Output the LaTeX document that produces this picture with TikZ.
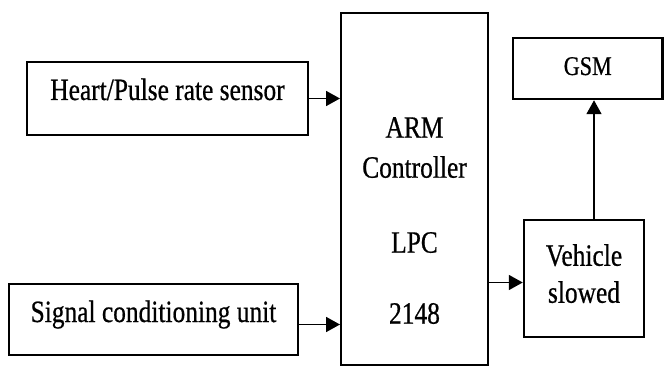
\documentclass[tikz,border=0pt]{standalone}
\usepackage{fontspec}
\setmainfont{Liberation Serif}[FakeStretch=0.82, FakeBold=0.6]
\usetikzlibrary{arrows.meta, positioning, calc}

\begin{document}
\begin{tikzpicture}[
    x=1pt, y=1pt,
    block/.style={rectangle, draw=black, line width=2.5pt, inner sep=0pt,
                  align=center, font=\fontsize{31pt}{37pt}\selectfont},
    arrow/.style={-{Triangle[length=14pt, width=15pt]}, line width=1.8pt},
]
    \useasboundingbox (0,0) rectangle (664,367);

    % input blocks
    \node[block, minimum width=281pt, minimum height=73pt,
          text height=21pt, text depth=18pt] (heart) at (167.5,268.5) {Heart/Pulse rate sensor};
    \node[block, minimum width=289pt, minimum height=71pt,
          text height=21pt, text depth=16pt] (signal) at (153.5,47.5) {Signal conditioning unit};

    % controller
    \node[block, line width=2pt, minimum width=147pt, minimum height=352pt] (arm) at (414.5,178) {};
    \node[anchor=north, inner sep=0pt, align=center,
          font=\fontsize{31pt}{40pt}\selectfont] (armtext) at (414.5,250)
          {ARM\\Controller\\[35pt]LPC\\[31pt]2148};

    % output blocks
    \node[block, minimum width=149.5pt, minimum height=61pt, text height=18pt, text depth=5pt,
          font=\fontsize{27pt}{32pt}\selectfont] (gsm) at (587.75,298.5) {GSM};
    \node[block, minimum width=120pt, minimum height=117pt, text depth=10pt] (vehicle) at (584,88.5) {Vehicle\\slowed};

    \draw[arrow] (heart.east) -- (heart.east -| arm.west);
    \draw[arrow] ([yshift=-5pt]signal.east) -- ([yshift=-5pt]signal.east -| arm.west);
    \draw[arrow] ([yshift=-4pt]arm.east |- vehicle.west) -- ([yshift=-4pt]vehicle.west);
    \draw[arrow] ([xshift=10pt]vehicle.north) -- ([xshift=10pt]vehicle.north |- gsm.south);
\end{tikzpicture}
\end{document}
